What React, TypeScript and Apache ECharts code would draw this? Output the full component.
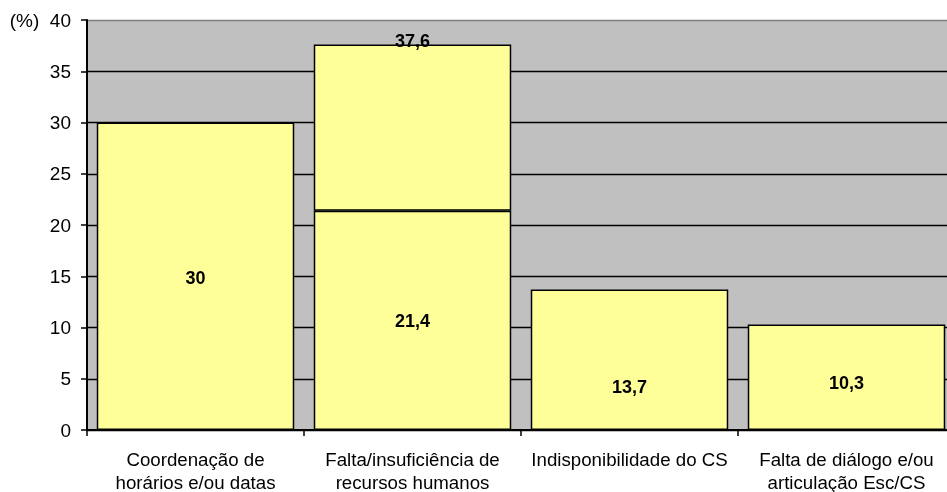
import React, { useEffect, useRef } from "react";
import * as echarts from "echarts";

const categories = [
  "Coordenação de\nhorários e/ou datas",
  "Falta/insuficiência de\nrecursos humanos",
  "Indisponibilidade do CS",
  "Falta de diálogo e/ou\narticulação Esc/CS",
];
const baseValues = [30, 21.4, 13.7, 10.3];
const totalValues = [null, 37.6, null, null];
const yTicks = [0, 5, 10, 15, 20, 25, 30, 35, 40];
// per-bar vertical label offsets (style only)
const labelOffsets = [2, 1, 27, 6];

const fmt = (v: number) => String(v).replace(".", ",");

export default function App() {
  const ref = useRef<HTMLDivElement>(null);
  useEffect(() => {
    if (!ref.current) return;
    const chart = echarts.init(ref.current, undefined, { renderer: "svg" });
    const font = "'Liberation Sans', Arial, sans-serif";
    const upper = totalValues.map((t, i) => (t == null ? null : +(t - baseValues[i]).toFixed(1)));
    const gridColors = yTicks.map((t) => (t === 40 ? "#808080" : "#000000"));
    chart.setOption({
      animation: false,
      grid: {
        left: 87,
        top: 20,
        width: 868,
        bottom: 62,
        show: true,
        backgroundColor: "#C0C0C0",
        borderWidth: 0,
        containLabel: false,
        outerBoundsMode: "none",
      },
      xAxis: {
        type: "category",
        data: categories,
        axisLine: { lineStyle: { color: "#000", width: 2 } },
        axisTick: { show: true, length: 6, lineStyle: { color: "#000", width: 1.5 } },
        axisLabel: {
          color: "#000",
          fontFamily: font,
          fontSize: 18.7,
          lineHeight: 23,
          margin: 18,
          interval: 0,
        },
      },
      yAxis: {
        type: "value",
        min: 0,
        max: 40,
        interval: 5,
        axisLine: { show: true, lineStyle: { color: "#000", width: 2 } },
        axisTick: { show: true, length: 6, lineStyle: { color: "#000", width: 1.5 } },
        splitLine: { show: true, lineStyle: { color: gridColors, width: 1.4 } },
        axisLabel: {
          color: "#000",
          fontFamily: font,
          fontSize: 19,
          margin: 16,
          formatter: (v: number) => (v === 40 ? "(%)  40" : String(v)),
        },
      },
      series: [
        {
          type: "bar",
          stack: "s",
          barWidth: "91%",
          data: baseValues.map((v, i) => ({
            value: v,
            label: { offset: [0, labelOffsets[i]] },
          })),
          itemStyle: { color: "#FFFF99", borderColor: "#000", borderWidth: 1.5 },
          label: {
            show: true,
            position: "inside",
            color: "#000",
            fontFamily: font,
            fontWeight: "bold",
            fontSize: 18,
            formatter: (p: any) => fmt(p.value),
          },
        },
        {
          type: "bar",
          stack: "s",
          barWidth: "91%",
          data: upper,
          itemStyle: { color: "#FFFF99", borderColor: "#000", borderWidth: 1.5 },
          label: {
            show: true,
            position: "top",
            distance: -5,
            color: "#000",
            fontFamily: font,
            fontWeight: "bold",
            fontSize: 18,
            formatter: (p: any) => {
              const t = totalValues[p.dataIndex];
              return t == null ? "" : fmt(t);
            },
          },
        },
      ],
    });
    return () => chart.dispose();
  }, []);
  return (
    <div
      ref={ref}
      style={{ position: "fixed", left: 0, top: 0, width: 947, height: 492 }}
    />
  );
}
